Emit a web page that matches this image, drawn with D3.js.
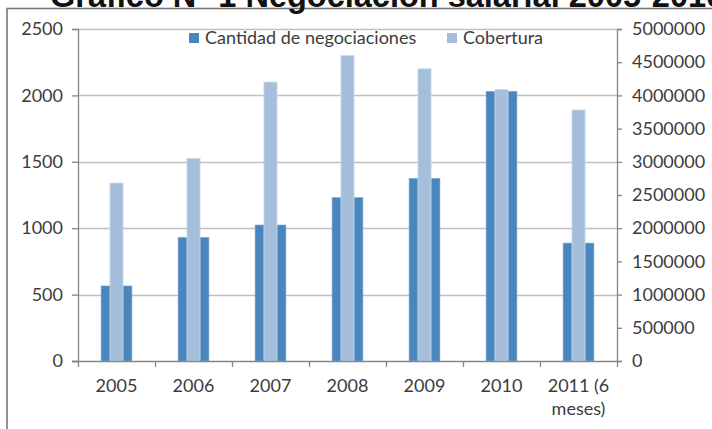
<!DOCTYPE html>
<html>
<head>
<meta charset="utf-8">
<script src="https://cdn.jsdelivr.net/npm/d3@7"></script>
<style>
  html, body { margin: 0; padding: 0; background: #fff; }
  svg { display: block; }
</style>
</head>
<body>
<div id="chart"></div>
<script>
// data
const categories = ["2005", "2006", "2007", "2008", "2009", "2010", "2011 (6 meses)"];
const categoryLines = [["2005"], ["2006"], ["2007"], ["2008"], ["2009"], ["2010"], ["2011 (6", "meses)"]];
const negociaciones = [565, 931, 1024, 1230, 1375, 2030, 888];
const cobertura = [2680000, 3050000, 4200000, 4600000, 4400000, 4090000, 3780000];
const leftTicks = [0, 500, 1000, 1500, 2000, 2500];
const rightTicks = [0, 500000, 1000000, 1500000, 2000000, 2500000, 3000000, 3500000, 4000000, 4500000, 5000000];
const seriesNames = ["Cantidad de negociaciones", "Cobertura"];

const width = 712;
const height = 429;
const plot = { left: 78, right: 617, top: 29, bottom: 361 };

const darkBlue = "#4a86be";
const lightBlue = "#a4bedc";
const axisColor = "#868686";
const textColor = "#3c3c3c";
const labelFont = "Lato, 'Open Sans', sans-serif";
const labelSize = "18px";

const svg = d3.select("#chart")
  .append("svg")
  .attr("width", width)
  .attr("height", height)
  .attr("viewBox", [0, 0, width, height]);

svg.append("rect")
  .attr("width", width)
  .attr("height", height)
  .attr("fill", "#fff");

// chart frame (runs off the right and bottom edges)
svg.append("rect")
  .attr("x", 7)
  .attr("y", 8.5)
  .attr("width", 800)
  .attr("height", 500)
  .attr("fill", "none")
  .attr("stroke", "#777")
  .attr("stroke-width", 1.6);

// title, clipped at the top of the picture like in the original
svg.append("text")
  .attr("x", 50)
  .attr("y", 7)
  .attr("fill", "#111")
  .style("font-family", "'Liberation Sans', Arial, sans-serif")
  .style("font-weight", "bold")
  .style("font-size", "32.5px")
  .text("Gráfico N° 1 Negociación salarial 2005-2010");

// scales
const x = d3.scaleBand()
  .domain(categories)
  .range([plot.left, plot.right]);

const yLeft = d3.scaleLinear()
  .domain([0, 2500])
  .range([plot.bottom, plot.top]);

const yRight = d3.scaleLinear()
  .domain([0, 5000000])
  .range([plot.bottom, plot.top]);

// gridlines
svg.append("g")
  .selectAll("line")
  .data(leftTicks.filter(d => d > 0))
  .join("line")
  .attr("x1", plot.left)
  .attr("x2", plot.right)
  .attr("y1", d => Math.round(yLeft(d)) + 0.5)
  .attr("y2", d => Math.round(yLeft(d)) + 0.5)
  .attr("stroke", "#c0c0c0")
  .attr("stroke-width", 1.3);

// bars: wide dark bar behind, narrow light bar in front
const darkW = x.bandwidth() * 0.4;
const lightW = x.bandwidth() * 0.17;

svg.append("g")
  .selectAll("rect")
  .data(categories)
  .join("rect")
  .attr("x", d => x(d) + x.bandwidth() / 2 - darkW / 2)
  .attr("y", (d, i) => yLeft(negociaciones[i]))
  .attr("width", darkW)
  .attr("height", (d, i) => yLeft(0) - yLeft(negociaciones[i]))
  .attr("fill", darkBlue)
  .attr("stroke", "#7aa6d1")
  .attr("stroke-width", 0.6);

svg.append("g")
  .selectAll("rect")
  .data(categories)
  .join("rect")
  .attr("x", d => x(d) + x.bandwidth() / 2 - lightW / 2)
  .attr("y", (d, i) => yRight(cobertura[i]))
  .attr("width", lightW)
  .attr("height", (d, i) => yRight(0) - yRight(cobertura[i]))
  .attr("fill", lightBlue)
  .attr("stroke", "#c9d9ec")
  .attr("stroke-width", 0.8);

// left axis
const gLeft = svg.append("g")
  .attr("transform", `translate(${plot.left},0)`)
  .call(d3.axisLeft(yLeft).tickValues(leftTicks).tickFormat(d3.format("d")).tickSize(6).tickPadding(9));

// right axis
const gRight = svg.append("g")
  .attr("transform", `translate(${plot.right},0)`)
  .call(d3.axisRight(yRight).tickValues(rightTicks).tickFormat(d3.format("d")).tickSize(5).tickPadding(10));

[gLeft, gRight].forEach(g => {
  g.select(".domain").attr("stroke", axisColor).attr("stroke-width", 1.3);
  g.selectAll(".tick line").attr("stroke", axisColor).attr("stroke-width", 1.3);
  g.selectAll(".tick text")
    .attr("fill", textColor)
    .style("font-family", labelFont)
    .style("font-size", labelSize);
});

// category axis
svg.append("line")
  .attr("x1", plot.left - 6)
  .attr("x2", plot.right)
  .attr("y1", plot.bottom + 0.5)
  .attr("y2", plot.bottom + 0.5)
  .attr("stroke", axisColor)
  .attr("stroke-width", 1.3);

const boundaries = categories.map(d => x(d)).concat([x.range()[1]]);
svg.append("g")
  .selectAll("line")
  .data(boundaries)
  .join("line")
  .attr("x1", d => Math.round(d) + 0.5)
  .attr("x2", d => Math.round(d) + 0.5)
  .attr("y1", plot.bottom)
  .attr("y2", plot.bottom + 6)
  .attr("stroke", axisColor)
  .attr("stroke-width", 1.3);

const catLabels = svg.append("g")
  .selectAll("text")
  .data(categories)
  .join("text")
  .attr("x", d => x(d) + x.bandwidth() / 2)
  .attr("y", 392)
  .attr("text-anchor", "middle")
  .attr("fill", textColor)
  .style("font-family", labelFont)
  .style("font-size", labelSize);

catLabels.each(function(d, i) {
  const t = d3.select(this);
  categoryLines[i].forEach((line, j) => {
    t.append("tspan")
      .attr("x", x(d) + x.bandwidth() / 2)
      .attr("dy", j === 0 ? 0 : 23)
      .text(line);
  });
});

// legend
const legendItems = [
  { name: seriesNames[0], color: darkBlue, x: 189 },
  { name: seriesNames[1], color: lightBlue, x: 447 }
];

const legend = svg.append("g")
  .selectAll("g")
  .data(legendItems)
  .join("g")
  .attr("transform", d => `translate(${d.x},33)`);

legend.append("rect")
  .attr("width", 10)
  .attr("height", 10)
  .attr("fill", d => d.color);

legend.append("text")
  .attr("x", 16)
  .attr("y", 11)
  .attr("fill", textColor)
  .style("font-family", labelFont)
  .style("font-size", labelSize)
  .text(d => d.name);
</script>
</body>
</html>
